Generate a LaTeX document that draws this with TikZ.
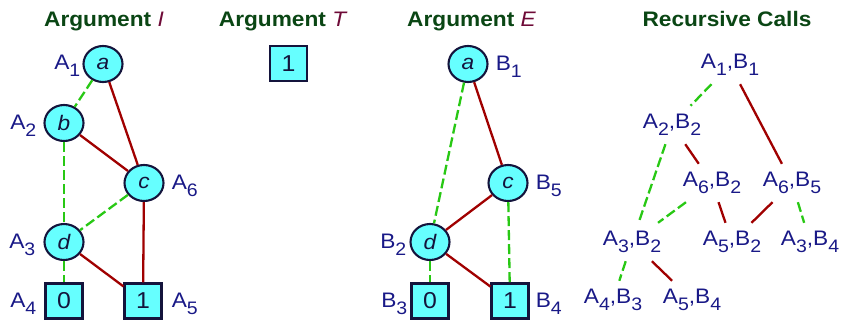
\documentclass[tikz,border=0pt]{standalone}
\usepackage{fontspec}
\setmainfont{Liberation Sans}[FakeStretch=1.08]
\usepackage{graphicx}
\usetikzlibrary{shapes.geometric}
\definecolor{navy}{RGB}{25,25,135}
\definecolor{edgeblk}{RGB}{20,20,60}
\definecolor{cyanf}{RGB}{102,255,255}
\definecolor{redE}{RGB}{160,0,0}
\definecolor{greenE}{RGB}{40,200,20}
\definecolor{titlegreen}{RGB}{10,70,20}
\definecolor{maroon}{RGB}{110,10,55}
\newcommand{\sbs}[1]{\raisebox{-0.35em}{\scalebox{0.86}{#1}}}
\begin{document}
\begin{tikzpicture}[x=1pt,y=-1pt,
 vtx/.style={ellipse, draw=edgeblk, fill=cyanf, line width=2.1pt, minimum width=39pt, minimum height=36pt, inner sep=0pt, text=edgeblk, font=\fontsize{21}{21}\selectfont\itshape},
 term/.style={rectangle, draw=edgeblk, fill=cyanf, line width=2.1pt, minimum width=37pt, minimum height=35pt, inner sep=0pt, text=edgeblk, font=\fontsize{23}{23}\selectfont},
 lbl/.style={text=navy, font=\fontsize{21}{21}\selectfont, inner sep=0pt},
 call/.style={text=navy, font=\fontsize{21}{21}\selectfont, minimum height=38pt, inner sep=3pt},
 hi/.style={draw=redE, line width=2.3pt},
 lo/.style={draw=greenE, line width=2.3pt, dash pattern=on 10pt off 4pt},
 ttl/.style={text=titlegreen, font=\fontsize{21}{21}\selectfont\bfseries, inner sep=0pt, anchor=base}]
\useasboundingbox (0,0) rectangle (845,321);

% titles
\node[ttl] (t1) at (104,27) {Argument \textcolor{maroon}{\mdseries\itshape I}};
\node[ttl] (t2) at (282.5,27) {Argument \textcolor{maroon}{\mdseries\itshape T}};
\node[ttl] (t3) at (471.5,27) {Argument \textcolor{maroon}{\mdseries\itshape E}};
\node[ttl] (t4) at (727,27) {Recursive Calls};

% Argument I
\node[vtx] (a) at (103,64) {a};
\node[vtx] (b) at (64,123) {b};
\node[vtx] (c) at (144,183) {c};
\node[vtx] (d) at (64,242) {d};
\node[term] (z) at (64,301) {0};
\node[term] (o) at (143,301) {1};
\draw[lo] (a) -- (b);
\draw[hi] (a) -- (c);
\draw[hi] (b) -- (c);
\draw[lo] (b) -- (d);
\draw[lo] (c) -- (d);
\draw[hi] (c) -- (o);
\draw[lo] (d) -- (z);
\draw[hi] (d) -- (o);
\node[lbl, anchor=base east] (la1) at ([xshift=-2pt,yshift=-5pt]a.west) {A\sbs{1}};
\node[lbl, anchor=base east] (la2) at ([xshift=-7pt,yshift=-6.5pt]b.west) {A\sbs{2}};
\node[lbl, anchor=base west] (la6) at ([xshift=7pt,yshift=-6.5pt]c.east) {A\sbs{6}};
\node[lbl, anchor=base east] (la3) at ([xshift=-8pt,yshift=-6.5pt]d.west) {A\sbs{3}};
\node[lbl, anchor=base east] (la4) at ([xshift=-8pt,yshift=-6.5pt]z.west) {A\sbs{4}};
\node[lbl, anchor=base west] (la5) at ([xshift=9pt,yshift=-6.5pt]o.east) {A\sbs{5}};

% Argument T
\node[term] (t) at (288.5,63.5) {1};

% Argument E
\node[vtx] (ea) at (468,64) {a};
\node[vtx] (ec) at (508,183) {c};
\node[vtx] (ed) at (430,242) {d};
\node[term] (ez) at (430,301) {0};
\node[term] (eo) at (510,301) {1};
\draw[lo] (ea) -- (ed);
\draw[hi] (ea) -- (ec);
\draw[hi] (ec) -- (ed);
\draw[lo] (ec) -- (eo);
\draw[lo] (ed) -- (ez);
\draw[hi] (ed) -- (eo);
\node[lbl, anchor=base west] (lb1) at ([xshift=7pt,yshift=-6.5pt]ea.east) {B\sbs{1}};
\node[lbl, anchor=base west] (lb5) at ([xshift=7pt,yshift=-6.5pt]ec.east) {B\sbs{5}};
\node[lbl, anchor=base east] (lb2) at ([xshift=-3pt,yshift=-6.5pt]ed.west) {B\sbs{2}};
\node[lbl, anchor=base east] (lb3) at ([xshift=-3pt,yshift=-6.5pt]ez.west) {B\sbs{3}};
\node[lbl, anchor=base west] (lb4) at ([xshift=6pt,yshift=-6.5pt]eo.east) {B\sbs{4}};

% Recursive calls
\node[call] (r11) at (730,65) {A\sbs{1},B\sbs{1}};
\node[call] (r22) at (672,125) {A\sbs{2},B\sbs{2}};
\node[call] (r62) at (712,183) {A\sbs{6},B\sbs{2}};
\node[call] (r65) at (792,183) {A\sbs{6},B\sbs{5}};
\node[call] (r32) at (632,242) {A\sbs{3},B\sbs{2}};
\node[call] (r52) at (732,242) {A\sbs{5},B\sbs{2}};
\node[call] (r34) at (810,242) {A\sbs{3},B\sbs{4}};
\node[call] (r43) at (613,300) {A\sbs{4},B\sbs{3}};
\node[call] (r54) at (692,300) {A\sbs{5},B\sbs{4}};
\draw[lo] (r11) -- (r22);
\draw[hi] (r11) -- (r65);
\draw[lo] (r22) -- (r32);
\draw[hi] (r22) -- (r62);
\draw[lo] (r62) -- (r32);
\draw[hi] (r62) -- (r52);
\draw[hi] (r65) -- (r52);
\draw[lo] (r65) -- (r34);
\draw[lo] (r32) -- (r43);
\draw[hi] (r32) -- (r54);
\end{tikzpicture}
\end{document}
